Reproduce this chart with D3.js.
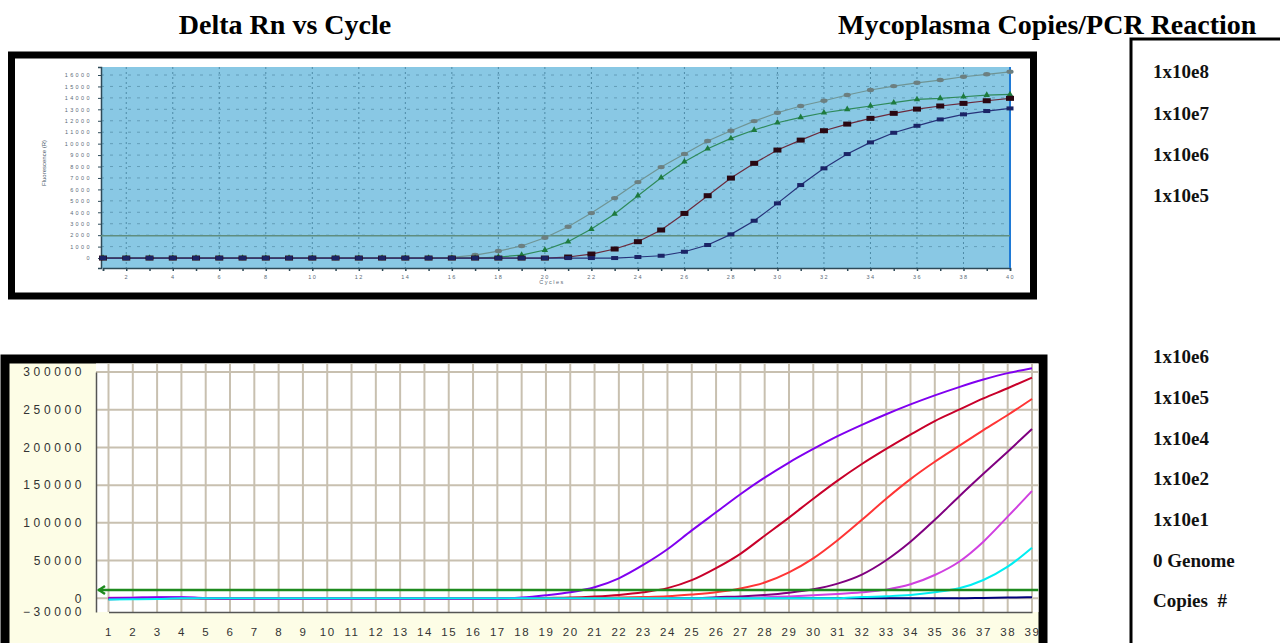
<!DOCTYPE html>
<html><head><meta charset="utf-8">
<script src="https://cdn.jsdelivr.net/npm/d3@7"></script>
<style>body{margin:0;background:#fff;} svg{display:block;}</style>
</head><body>
<svg id="c" width="1280" height="643"></svg>
<script>
// ---------- DATA ----------
const titleLeft = "Delta Rn vs Cycle";
const titleRight = "Mycoplasma Copies/PCR Reaction";
const rightLabelsTop = ["1x10e8","1x10e7","1x10e6","1x10e5"];
const rightLabelsBottom = ["1x10e6","1x10e5","1x10e4","1x10e2","1x10e1","0 Genome","Copies  #"];

// top chart (Fluorescence vs cycles)
const topCycles = [1,2,3,4,5,6,7,8,9,10,11,12,13,14,15,16,17,18,19,20,21,22,23,24,25,26,27,28,29,30,31,32,33,34,35,36,37,38,39,40];
const topTicksX = [2,4,6,8,10,12,14,16,18,20,22,24,26,28,30,32,34,36,38,40];
const topTicksY = [0,1000,2000,3000,4000,5000,6000,7000,8000,9000,10000,11000,12000,13000,14000,15000,16000];
const topThreshold = 1950;
const top1e8 = [0,0,0,0,0,0,0,0,0,0,0,0,0,0,0,60,260,610,1050,1770,2740,3930,5240,6640,7950,9090,10230,11130,11970,12700,13290,13750,14250,14690,15030,15320,15560,15850,16060,16280];
const top1e7 = [0,0,0,0,0,0,0,0,0,0,0,0,0,0,0,0,0,90,260,700,1430,2530,3850,5450,7020,8420,9560,10460,11190,11830,12300,12700,13000,13290,13580,13870,13960,14100,14250,14300];
const top1e6 = [0,0,0,0,0,0,0,0,0,0,0,0,0,0,0,0,0,0,0,0,90,350,790,1430,2450,3900,5450,6990,8280,9440,10310,11130,11710,12210,12650,13020,13290,13520,13750,13960];
const top1e5 = [0,0,0,0,0,0,0,0,0,0,0,0,0,0,0,0,0,0,0,0,0,0,0,90,200,550,1140,2070,3260,4780,6380,7840,9090,10110,10950,11560,12120,12560,12850,13080];

// bottom chart
const botCycles = [1,2,3,4,5,6,7,8,9,10,11,12,13,14,15,16,17,18,19,20,21,22,23,24,25,26,27,28,29,30,31,32,33,34,35,36,37,38,39];
const botTicksY = [-30000,0,50000,100000,150000,200000,250000,300000];
const botThreshold = 11000;
const bot1e6 = [0,500,1500,1500,0,-500,-500,-500,-500,-500,-500,-500,-500,-500,-500,-500,-500,1000,4000,8000,14600,26500,44200,65000,90000,114000,138000,160000,180000,198000,215000,230000,244000,257000,269000,280000,290000,298500,305000];
const bot1e5 = [0,0,500,500,0,0,0,0,0,0,0,0,0,0,0,0,0,0,500,1000,2400,4500,8000,13500,24000,40000,59000,83000,107000,132000,156000,178000,198000,217000,235000,250000,265000,278500,292600];
const bot1e4 = [0,0,0,0,0,0,0,0,0,0,0,0,0,0,0,0,0,0,0,0,500,1000,1700,2700,5000,8000,13000,21000,34500,53000,77000,104000,132000,158000,181000,202000,223000,243000,264300];
const bot1e2 = [0,0,0,0,0,-500,-500,0,0,0,0,0,0,0,0,0,0,0,0,0,0,0,0,0,0,1500,2500,4500,7500,11900,19500,31500,50500,75000,104000,135000,165000,194400,224500];
const bot1e1 = [800,1000,1200,1500,500,-1300,-1300,-1300,-1300,-1300,-1300,-1300,-1300,-1300,-1300,-1300,-1300,0,0,0,0,0,0,0,0,0,0,1500,2500,4000,5700,8000,11500,18600,30900,48500,75100,108200,142300];
const bot0 = [-2500,-2300,-1500,0,0,0,0,0,0,0,0,0,0,0,0,0,0,0,0,0,0,0,0,0,0,0,0,0,0,0,0,1700,2700,4400,8000,13200,24300,41900,67100];
const botNeg = [-2000,-800,0,0,0,0,0,0,0,0,0,0,0,0,0,0,0,0,0,0,0,0,0,0,0,0,0,0,0,0,0,0,0,0,0,0,500,1000,1500];

// ---------- DRAW ----------
const svg = d3.select("#c");
const serif = "'Liberation Serif','Times New Roman',serif";
const sans = "'Liberation Sans',Arial,sans-serif";

svg.append("text").attr("x",285).attr("y",34).attr("text-anchor","middle")
  .style("font-family",serif).style("font-weight","bold").style("font-size","28px").text(titleLeft);
svg.append("text").attr("x",838).attr("y",34)
  .style("font-family",serif).style("font-weight","bold").style("font-size","28px").text(titleRight);

// ===== TOP CHART =====
const gT = svg.append("g");
gT.append("rect").attr("x",11.5).attr("y",55).attr("width",1022).attr("height",241)
  .attr("fill","#fff").attr("stroke","#000").attr("stroke-width",7);
const tL=101, tR=1010, tTop=67, tBot=268;
gT.append("rect").attr("x",tL).attr("y",tTop).attr("width",tR-tL).attr("height",tBot-tTop).attr("fill","#89c8e4");
const xT = d3.scaleLinear().domain([1,40]).range([103,1010]);
const yT = d3.scaleLinear().domain([-870,16700]).range([tBot,tTop]);

gT.append("g").selectAll("line").data(topTicksX.filter(d=>d<40)).join("line")
  .attr("x1",d=>xT(d)).attr("x2",d=>xT(d)).attr("y1",tTop).attr("y2",tBot)
  .attr("stroke","#4d8aa6").attr("stroke-width",1).attr("stroke-dasharray","2,3");
gT.append("g").selectAll("line").data(topTicksY.filter(d=>d>0)).join("line")
  .attr("x1",tL).attr("x2",tR).attr("y1",d=>yT(d)).attr("y2",d=>yT(d))
  .attr("stroke","#5a93ad").attr("stroke-width",0.8).attr("stroke-dasharray","3,6");

const axYT = gT.append("g").attr("transform",`translate(${tL},0)`)
  .call(d3.axisLeft(yT).tickValues(topTicksY).tickSize(3).tickPadding(6).tickFormat(d3.format("d")));
axYT.select(".domain").attr("stroke","#2e4a58").attr("stroke-width",1.5);
axYT.selectAll(".tick line").attr("stroke","#2e4a58");
axYT.selectAll("text").style("font-family",sans).style("font-size","5.5px").style("letter-spacing","2.4px").attr("fill","#5a6a78");
const axXT = gT.append("g").attr("transform",`translate(0,${tBot})`)
  .call(d3.axisBottom(xT).tickValues(topCycles).tickSize(3).tickPadding(4).tickFormat(d=> topTicksX.includes(d)? d : ""));
axXT.select(".domain").attr("stroke","#2e4a58").attr("stroke-width",1.5);
axXT.selectAll(".tick line").attr("stroke","#2e4a58").attr("stroke-width",1.5);
axXT.selectAll("text").style("font-family",sans).style("font-size","5.5px").style("letter-spacing","1.5px").attr("fill","#5a6a78");
gT.append("text").attr("x",552).attr("y",284).attr("text-anchor","middle")
  .style("font-family",sans).style("font-size","5.5px").style("letter-spacing","1.5px").attr("fill","#5a6a78").text("Cycles");
gT.append("text").attr("transform","translate(46,163) rotate(-90)").attr("text-anchor","middle")
  .style("font-family",sans).style("font-size","6px").attr("fill","#4a5a68").text("Fluorescence (R)");

gT.append("line").attr("x1",tR).attr("x2",tR).attr("y1",tTop).attr("y2",tBot).attr("stroke","#1f7ad6").attr("stroke-width",2);
gT.append("line").attr("x1",tL).attr("x2",tR).attr("y1",yT(topThreshold)).attr("y2",yT(topThreshold))
  .attr("stroke","#5f8d7f").attr("stroke-width",1.6);

const lineT = d3.line().x((d,i)=>xT(topCycles[i])).y(d=>yT(d));
const topSeries = [
  {v:top1e8, line:"#6f9494", mark:"ell", fill:"#6c7f80"},
  {v:top1e7, line:"#2f8a5a", mark:"tri", fill:"#1d7a3e"},
  {v:top1e6, line:"#6b2a3c", mark:"rect", fill:"#2a0812", w:8, h:5},
  {v:top1e5, line:"#27337a", mark:"rect", fill:"#1b2466", w:7, h:4}
];
topSeries.forEach(s=>{
  gT.append("path").datum(s.v).attr("d",lineT).attr("fill","none").attr("stroke",s.line).attr("stroke-width",1.2);
});
topSeries.forEach(s=>{
  const g = gT.append("g");
  s.v.forEach((d,i)=>{
    const cx = xT(topCycles[i]), cy = yT(d);
    if(s.mark==="rect") g.append("rect").attr("x",cx-s.w/2).attr("y",cy-s.h/2).attr("width",s.w).attr("height",s.h).attr("fill",s.fill);
    else if(s.mark==="tri") g.append("path").attr("transform",`translate(${cx},${cy})`).attr("d",d3.symbol(d3.symbolTriangle,18)()).attr("fill",s.fill);
    else g.append("ellipse").attr("cx",cx).attr("cy",cy).attr("rx",3.6).attr("ry",2.2).attr("fill",s.fill);
  });
});

// ===== BOTTOM CHART =====
const gB = svg.append("g");
gB.append("rect").attr("x",5).attr("y",359).attr("width",1038).attr("height",300)
  .attr("fill","#fdfde6").attr("stroke","#000").attr("stroke-width",9);
const bL=96, bR=1038.5, bTop=363.5, bBot=612;
gB.append("rect").attr("x",bL).attr("y",bTop).attr("width",bR-bL).attr("height",bBot-bTop).attr("fill","#fff");
const xB = d3.scaleLinear().domain([1,39]).range([108.5,1032]);
const yB = d3.scaleLinear().domain([-30000,0,300000]).range([bBot,598.3,372]);

gB.append("g").selectAll("line").data(botCycles).join("line")
  .attr("x1",d=>xB(d)).attr("x2",d=>xB(d)).attr("y1",bTop).attr("y2",bBot)
  .attr("stroke","#c8c0b0").attr("stroke-width",2);
gB.append("g").selectAll("line").data(botTicksY.filter(d=>d>-30000)).join("line")
  .attr("x1",bL).attr("x2",bR).attr("y1",d=>yB(d)).attr("y2",d=>yB(d))
  .attr("stroke","#c8c0b0").attr("stroke-width",2);

const axYB = gB.append("g").attr("transform",`translate(${bL},0)`)
  .call(d3.axisLeft(yB).tickValues(botTicksY).tickSize(0).tickPadding(11).tickFormat(d3.format("d")));
axYB.select(".domain").attr("stroke","#555").attr("stroke-width",1.5);
axYB.selectAll("text").style("font-family",sans).style("font-size","12px")
  .style("letter-spacing","3.6px").attr("fill","#333");
const axXB = gB.append("g").attr("transform",`translate(0,${bBot})`)
  .call(d3.axisBottom(xB).tickValues(botCycles).tickSize(0).tickPadding(16).tickFormat(d3.format("d")));
axXB.select(".domain").attr("stroke","#555").attr("stroke-width",1.5);
axXB.selectAll("text").style("font-family",sans).style("font-size","11.5px")
  .style("letter-spacing","1.5px").attr("fill","#333");

svg.append("clipPath").attr("id","bclip").append("rect").attr("x",bL).attr("y",bTop).attr("width",bR-bL).attr("height",bBot-bTop);
const lineB = d3.line().x((d,i)=>xB(botCycles[i])).y(d=>yB(d)).curve(d3.curveMonotoneX);
const botSeries = [
  {v:botNeg, c:"#00007a"},
  {v:bot1e1, c:"#d040e0"},
  {v:bot1e2, c:"#800080"},
  {v:bot1e4, c:"#ff3535"},
  {v:bot1e5, c:"#c8002a"},
  {v:bot1e6, c:"#8000f0"},
  {v:bot0,   c:"#00eef2"}
];
const gl = gB.append("g").attr("clip-path","url(#bclip)");
botSeries.forEach(s=>{
  gl.append("path").datum(s.v).attr("d",lineB).attr("fill","none").attr("stroke",s.c).attr("stroke-width",2);
});
const ty = yB(botThreshold);
gl.append("line").attr("x1",bL+2).attr("x2",bR).attr("y1",ty).attr("y2",ty).attr("stroke","#1e8a1e").attr("stroke-width",2.5);
gB.append("path").attr("d",`M${bL+9},${ty-4} L${bL+3},${ty} L${bL+9},${ty+4}`).attr("fill","none").attr("stroke","#1e8a1e").attr("stroke-width",2.5);

// ===== RIGHT LEGEND BOX =====
svg.append("path").attr("d","M1131,643 V39 H1280").attr("fill","none").attr("stroke","#000").attr("stroke-width",3);
const lblStyle = sel => sel.style("font-family",serif).style("font-weight","bold")
  .style("font-size","19px").style("white-space","pre").attr("fill","#111");
const topLblY = [78,120,161,202];
const botLblY = [363,404,445,485,526,567,607];
svg.append("g").selectAll("text").data(rightLabelsTop).join("text").attr("x",1153).attr("y",(d,i)=>topLblY[i]).call(lblStyle).text(d=>d);
svg.append("g").selectAll("text").data(rightLabelsBottom).join("text").attr("x",1153).attr("y",(d,i)=>botLblY[i]).call(lblStyle).text(d=>d);
</script>
</body></html>
